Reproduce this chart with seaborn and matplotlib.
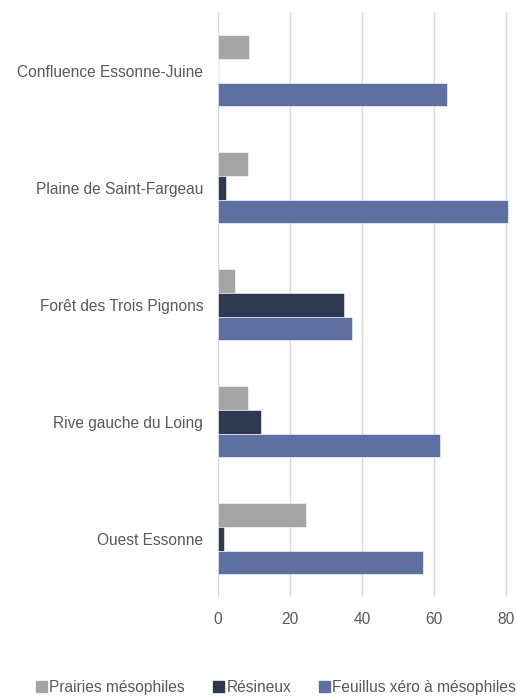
import pandas as pd
import matplotlib.pyplot as plt
import seaborn as sns

# Données
sites = ["Confluence Essonne-Juine", "Plaine de Saint-Fargeau", "Forêt des Trois Pignons",
         "Rive gauche du Loing", "Ouest Essonne"]
series = ["Prairies mésophiles", "Résineux", "Feuillus xéro à mésophiles"]
prairies = [8.7, 8.5, 4.9, 8.3, 24.5]
resineux = [0.0, 2.4, 35.0, 12.0, 1.8]
feuillus = [63.8, 80.5, 37.2, 61.8, 57.0]
couleurs = ["#A5A5A5", "#2E3851", "#5D70A1"]

df = pd.DataFrame({
    "Site": sites * 3,
    "Type": [series[0]] * 5 + [series[1]] * 5 + [series[2]] * 5,
    "Valeur": prairies + resineux + feuillus,
})

sns.set_style("white")
plt.rcParams['font.family'] = ['Liberation Sans', 'DejaVu Sans']

fig = plt.figure(figsize=(5.17, 6.99), dpi=100)
ax = fig.add_axes([0.4211, 0.1459, 0.5789, 0.8369])
sns.barplot(data=df, x="Valeur", y="Site", hue="Type", order=sites, hue_order=series,
            palette=couleurs, saturation=1, width=0.615, gap=0, orient="h", ax=ax,
            edgecolor="white", linewidth=0.4, legend=False)

ax.set_xlim(0, 83.1)
ax.set_xticks([0, 20, 40, 60, 80])
ax.grid(axis="x", color="#D9D9D9", linewidth=1)
ax.set_axisbelow(True)
for s in ax.spines.values():
    s.set_visible(False)
ax.tick_params(axis="both", length=0, labelsize=11.2, labelcolor="#595959")
ax.tick_params(axis="y", pad=10.5)
ax.tick_params(axis="x", pad=11)
ax.set_xlabel("")
ax.set_ylabel("")

handles = [plt.Rectangle((0, 0), 1, 1, color=c) for c in couleurs]
fig.legend(handles, series, loc="center left", bbox_to_anchor=(0.07, 0.016), ncol=3,
           frameon=False, fontsize=11.2, handlelength=0.7, handleheight=0.7,
           handletextpad=0.15, columnspacing=1.8, labelcolor="#595959",
           borderaxespad=0, borderpad=0)

fig.savefig("out.png", dpi=100)
plt.close()
